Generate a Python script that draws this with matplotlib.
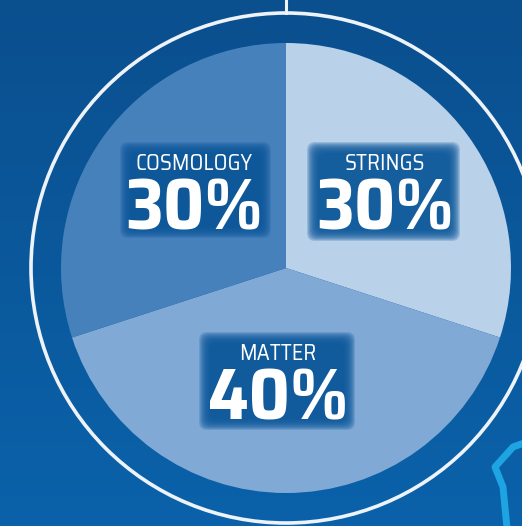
import matplotlib
matplotlib.use("Agg")
import matplotlib.pyplot as plt
import numpy as np
from matplotlib import font_manager
from matplotlib.patches import Circle, FancyBboxPatch
from matplotlib.colors import LinearSegmentedColormap

categories = ["STRINGS", "MATTER", "COSMOLOGY"]
values = [30, 40, 30]
pct_labels = ["30%", "40%", "30%"]
slice_colors = ["#b9d1e9", "#80aad5", "#4781bc"]

names = {f.name for f in font_manager.fontManager.ttflist}
def pick(*cands):
    for c in cands:
        if c in names:
            return [c, "DejaVu Sans"]
    return ["DejaVu Sans"]
num_font = pick("Saira SemiCondensed", "Saira Condensed", "Barlow Semi Condensed")
lab_font = pick("Saira SemiCondensed", "Titillium Web", "Barlow Semi Condensed")

W, H = 522, 526
fig = plt.figure(figsize=(W / 100, H / 100), dpi=100)
ax = fig.add_axes([0, 0, 1, 1])

# background gradient
cmap = LinearSegmentedColormap.from_list("bg", ["#0b62aa", "#0a4f8e"])
grad = np.linspace(0, 1, 256).reshape(-1, 1)
ax.imshow(grad, cmap=cmap, extent=[0, W, 0, H], origin="lower", aspect="auto", zorder=0)

cx, cy = 286, H - 268
R = 225
ax.pie(values, colors=slice_colors, startangle=90, counterclock=False,
       center=(cx, cy), radius=R, frame=True,
       wedgeprops=dict(linewidth=0, zorder=2))
ax.set_xlim(0, W)
ax.set_ylim(0, H)
ax.set_aspect("auto")
ax.axis("off")

# outer ring and top connector
ax.add_patch(Circle((cx, cy), 255, fill=False, ec="#eef3fa", lw=2.6, zorder=3))
ax.plot([cx, cx], [cy + 255, H], color="#eef3fa", lw=2.2, zorder=3)

# cyan decoration bottom right
ax.plot([524, 513, 495, 503, 507], [H - 443, H - 447, H - 467, H - 487, -2],
        color="#1ea3e3", lw=5, solid_capstyle="round", solid_joinstyle="round", zorder=3)

# label boxes: (x0, x1, y0, y1) in pixels from top-left
boxes = {"STRINGS": (312, 455, 147, 236), "MATTER": (204, 350, 337, 425),
         "COSMOLOGY": (125, 266, 147, 233)}
# text anchors: (center x, label baseline, number baseline) pixels from top
anchors = {"STRINGS": (385, 170, 230), "MATTER": (278, 360, 419),
           "COSMOLOGY": (194, 170, 230)}
for cat, pct in zip(categories, pct_labels):
    x0, x1, y0, y1 = boxes[cat]
    for k in range(12):
        pad = 9 - k
        ax.add_patch(FancyBboxPatch((x0 + 4 - pad, H - y1 + 4 - pad), (x1 - x0 - 8) + 2 * pad,
                                    (y1 - y0 - 8) + 2 * pad,
                                    boxstyle="round,pad=0,rounding_size=8",
                                    fc="#0b5799", ec="none", alpha=0.2, zorder=4))
    px, lb, nb = anchors[cat]
    ax.text(px, H - lb, cat, ha="center", va="baseline", color="white",
            fontsize=16, family=lab_font, zorder=5)
    ax.text(px, H - nb, pct, ha="center", va="baseline", color="white",
            fontsize=52, fontweight="bold", family=num_font, zorder=5)

fig.savefig("out.png", dpi=100, facecolor="#0a5596")
